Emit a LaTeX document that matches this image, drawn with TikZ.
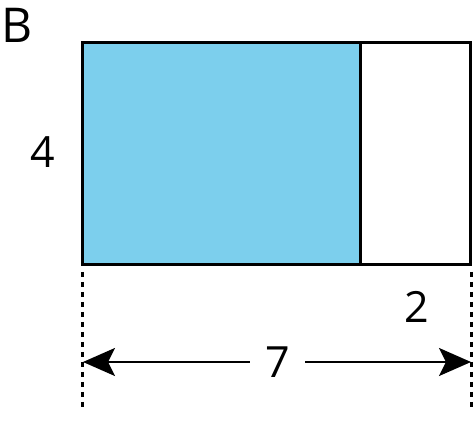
\documentclass[tikz,border=0pt]{standalone}
\usepackage{fontspec}
\setmainfont{Open Sans}
\usetikzlibrary{arrows.meta}
\definecolor{areablue}{RGB}{124,207,237}

\begin{document}
\begin{tikzpicture}[x=1pt, y=-1pt,
    edge/.style={draw=black, line width=3pt},
    guide/.style={black, line width=3pt, dash pattern=on 5pt off 5pt},
    span/.style={{Stealth[length=32pt, width=28pt, inset=7pt]}-{Stealth[length=32pt, width=28pt, inset=7pt]}, line width=2.5pt},
    size/.style={font=\fontsize{43}{50}\selectfont, inner sep=0pt}
  ]
  \useasboundingbox (0,0) rectangle (474,443);

  \coordinate (nw) at (82,43);
  \coordinate (cut) at (360,43);
  \coordinate (cutb) at (360,265);
  \coordinate (sw) at (82,265);
  \coordinate (se) at (470,265);
  \coordinate (lend) at (82,408);
  \coordinate (rend) at (471,408);
  \coordinate (larr) at (83,362);
  \coordinate (rarr) at (471,362);

  \fill[areablue] (nw) rectangle (cutb);
  \draw[edge] (nw) rectangle (se);
  \draw[edge] (cut) -- (cutb);

  \draw[guide] (82,272) -- (lend);
  \draw[guide] (471,272) -- (rend);

  \draw[span] (larr) -- (rarr) node[pos=0.502, fill=white, size, inner xsep=15pt] (seven) {7};

  \node[size, font=\fontsize{48}{56}\selectfont] (part) at (17,25.5) {B};
  \node[size] (height) at (43,152) {4};
  \node[size] (width) at (417,307) {2};
\end{tikzpicture}
\end{document}
